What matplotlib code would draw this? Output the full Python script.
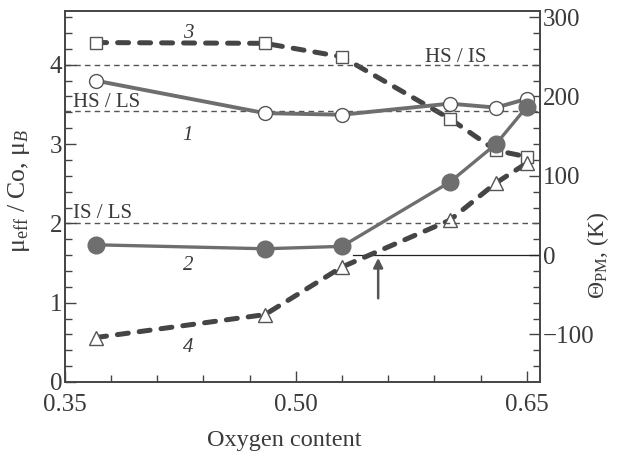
import numpy as np
import matplotlib
matplotlib.use("Agg")
import matplotlib.pyplot as plt

plt.rcParams['font.family'] = ['Liberation Serif', 'DejaVu Serif']
plt.rcParams['mathtext.fontset'] = 'custom'
plt.rcParams['mathtext.rm'] = 'Liberation Serif'
plt.rcParams['mathtext.it'] = 'Liberation Serif:italic'

# data
oxygen = [0.37, 0.48, 0.53, 0.60, 0.63, 0.65]
mu_1 = [3.80, 3.39, 3.37, 3.51, 3.46, 3.57]      # open circles
mu_2 = [1.73, 1.68, 1.71, 2.52, 3.00, 3.47]      # filled circles
theta_3 = [268, 267, 250, 172, 132, 124]         # open squares (K)
theta_4 = [-104, -75, -15, 44, 91, 116]          # open triangles (K)

ref_levels = [4.0, 3.42, 2.0]
ref_names = ['HS / IS', 'HS / LS', 'IS / LS']
ref_text_x = [0.584, 0.3555, 0.3555]
ref_text_y = [4.09, 3.52, 2.13]

curve_ids = ['3', '1', '2', '4']
curve_id_y = [4.40, 3.11, 1.47, 0.43]
curve_id_x = 0.430

theta_zero_start = 0.537
arrow_x = 0.5535
arrow_from = -58

gray = '#6e6e6e'
dark = '#454545'
txt = '#3a3a3a'

fig = plt.figure(figsize=(6.17, 4.51), dpi=100)
ax = fig.add_axes([0.105, 0.153, 0.77, 0.823])
ax2 = ax.twinx()

ax.set_xlim(0.35, 0.6585)
ax.set_ylim(0, 4.68)
ax2.set_ylim(-160, 308)

# reference levels
for lev in ref_levels:
    ax.axhline(lev, color='#555555', lw=1.0, ls=(0, (4, 3)), zorder=1)
for name, xx, yy in zip(ref_names, ref_text_x, ref_text_y):
    ax.text(xx, yy, name, fontsize=15, color=txt, va='center', ha='left')

# zero line and arrow on right axis
ax2.plot([theta_zero_start, 0.6585], [0, 0], color='#222222', lw=0.9)
ax2.annotate('', xy=(arrow_x, 0), xytext=(arrow_x, arrow_from),
             arrowprops=dict(arrowstyle='-|>', color='#555555', lw=1.8,
                             mutation_scale=14))

# dashed curves (right axis)
ax2.plot(oxygen, theta_3, color=dark, lw=3.6, ls=(0, (2.2, 2.2)),
         dash_capstyle='round', zorder=2)
ax2.plot(oxygen, theta_3, ls='none', marker='s', ms=9, mfc='white',
         mec='#555555', mew=1.0, zorder=3)
ax2.plot(oxygen, theta_4, color=dark, lw=3.6, ls=(0, (2.2, 2.2)),
         dash_capstyle='round', zorder=2)
ax2.plot(oxygen, theta_4, ls='none', marker='^', ms=10, mfc='white',
         mec='#555555', mew=1.0, zorder=3)

# solid curves (left axis) drawn above
ax.set_zorder(ax2.get_zorder() + 1)
ax.patch.set_visible(False)
ax.plot(oxygen, mu_1, color=gray, lw=2.8, marker='o', ms=10, mfc='white',
        mec='#555555', mew=1.0, zorder=3)
ax.plot(oxygen, mu_2, color=gray, lw=2.4, marker='o', ms=12, mfc=gray,
        mec=gray, zorder=3)

for cid, yy in zip(curve_ids, curve_id_y):
    ax.text(curve_id_x, yy, cid, fontsize=15, style='italic', color=txt,
            ha='center', va='center')

# axes styling
ax.set_xticks([0.35, 0.50, 0.65])
ax.set_xticklabels(['0.35', '0.50', '0.65'])
ax.set_xticks(np.arange(0.35, 0.66, 0.03), minor=True)
ax.set_yticks([0, 1, 2, 3, 4])
ax.set_yticks(np.arange(0, 4.61, 0.2), minor=True)
ax2.set_yticks([-100, 0, 100, 200, 300])
ax2.set_yticks(np.arange(-140, 301, 20), minor=True)

for a in (ax, ax2):
    a.tick_params(which='both', direction='in', colors='#444444',
                  labelcolor=txt, labelsize=18, pad=2)
    a.tick_params(which='major', length=8, width=1)
    a.tick_params(which='minor', length=5, width=1)
    for s in a.spines.values():
        s.set_color('#444444')
        s.set_linewidth(1.2)
ax.tick_params(top=False, right=False)
ax.tick_params(axis='x', which='both', top=False)
ax.tick_params(axis='x', pad=9)

ax.set_xlabel('Oxygen content', fontsize=17.5, color=txt)
ax.xaxis.set_label_coords(0.463, -0.13)
ax.set_ylabel(r'μ$_{\mathrm{eff}}$ / Co, μ$_B$', fontsize=18.5, color=txt)
ax.yaxis.set_label_coords(-0.07, 0.515)
ax2.set_ylabel(r'Θ$_{\mathrm{PM}}$, (K)', fontsize=17, color=txt)
ax2.yaxis.set_label_coords(1.095, 0.34)

fig.savefig('out.png', dpi=100)
